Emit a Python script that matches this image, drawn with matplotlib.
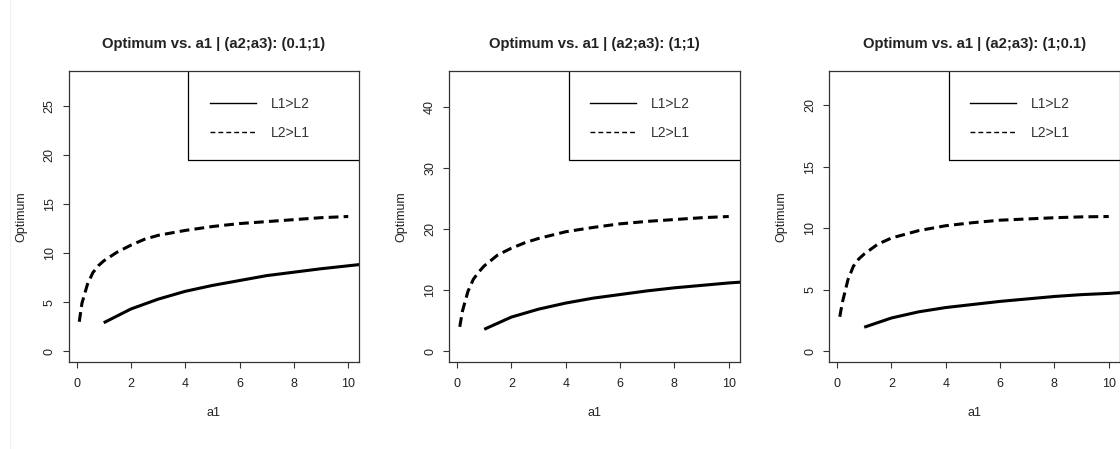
import matplotlib
matplotlib.use("Agg")
import matplotlib.pyplot as plt
from matplotlib.lines import Line2D
from matplotlib.patches import Rectangle
import numpy as np

plt.rcParams["font.family"] = ["Liberation Sans", "DejaVu Sans"]

# a1 grids
a1_dashed = [0.1, 0.2, 0.4, 0.6, 0.8, 1.0, 1.5, 2.0, 2.5, 3.0, 4.0, 5.0, 6.0, 7.0, 8.0, 9.0, 10.0]
a1_solid = [1, 2, 3, 4, 5, 6, 7, 8, 9, 10, 11]

titles = [
    "Optimum vs. a1 | (a2;a3): (0.1;1)",
    "Optimum vs. a1 | (a2;a3): (1;1)",
    "Optimum vs. a1 | (a2;a3): (1;0.1)",
]

# L2>L1 (dashed)
opt_l2_gt_l1 = [
    [3.0, 4.9, 6.8, 8.0, 8.7, 9.2, 10.1, 10.8, 11.4, 11.8, 12.3, 12.7, 13.0, 13.2, 13.4, 13.6, 13.72],
    [4.0, 6.6, 9.8, 11.8, 13.0, 14.0, 15.8, 16.9, 17.8, 18.5, 19.6, 20.3, 20.9, 21.3, 21.6, 21.9, 22.1],
    [2.8, 4.0, 5.8, 6.9, 7.5, 7.9, 8.7, 9.2, 9.5, 9.8, 10.2, 10.45, 10.65, 10.75, 10.85, 10.92, 10.95],
]

# L1>L2 (solid)
opt_l1_gt_l2 = [
    [2.9, 4.3, 5.3, 6.1, 6.7, 7.2, 7.7, 8.05, 8.4, 8.7, 9.0],
    [3.6, 5.6, 6.9, 7.9, 8.7, 9.3, 9.9, 10.4, 10.8, 11.2, 11.5],
    [1.95, 2.7, 3.2, 3.55, 3.8, 4.05, 4.25, 4.45, 4.6, 4.7, 4.85],
]

y_steps = [5, 10, 5]

W, H = 1120, 449
fig = plt.figure(figsize=(W / 100, H / 100), dpi=100)
fig.add_artist(Line2D([10 / W, 10 / W], [0, 1], color="#f0f0f0", lw=0.8))

lefts = [68.5, 449, 829]
txt = "#222222"

for i in range(3):
    ax = fig.add_axes([lefts[i] / W, (H - 362) / H, 290.5 / W, 291 / H])
    xd = np.array(a1_dashed)
    yd = np.array(opt_l2_gt_l1[i])

    ax.plot(xd, yd, color="black", lw=2.2, dashes=(3.2, 1.7), dash_capstyle="butt")
    ax.plot(a1_solid, opt_l1_gt_l2[i], color="black", lw=2.2, solid_capstyle="butt")

    # R style ranges: 4% padding
    x0, x1 = xd.min(), xd.max()
    ax.set_xlim(x0 - 0.04 * (x1 - x0), x1 + 0.04 * (x1 - x0))
    ytop = 2 * yd.max()
    ax.set_ylim(-0.04 * ytop, 1.04 * ytop)

    ax.set_xticks(np.arange(0, 11, 2))
    ax.set_yticks(np.arange(0, ytop, y_steps[i]))
    ax.tick_params(length=4.3, width=0.8, labelsize=9, colors="#333333", labelcolor=txt)
    ax.tick_params(axis="x", pad=7.5)
    ax.tick_params(axis="y", pad=5, labelrotation=90)
    for lab in ax.get_yticklabels():
        lab.set_va("center")
    for s in ax.spines.values():
        s.set_linewidth(0.9)
        s.set_color("#333333")

    ax.set_title(titles[i], fontsize=10.7, fontweight="bold", pad=16.5, color=txt)
    ax.set_xlabel("a1", fontsize=9, color=txt)
    ax.xaxis.set_label_coords(0.5, -0.155)
    ax.set_ylabel("Optimum", fontsize=9, color=txt)
    ax.yaxis.set_label_coords(-0.143, 0.5)

    ax.add_patch(Rectangle((0.412, 0.694), 0.7, 0.4, transform=ax.transAxes,
                           fill=False, edgecolor="black", lw=0.9, clip_on=True))
    handles = [Line2D([], [], color="black", lw=1.0),
               Line2D([], [], color="black", lw=1.0, dashes=(3.5, 2.2))]
    ax.legend(handles, ["L1>L2", "L2>L1"], loc="upper left", bbox_to_anchor=(0.486, 0.91),
              frameon=False, fontsize=10, handlelength=3.3, handletextpad=1.08,
              labelspacing=1.05, borderpad=0, borderaxespad=0, labelcolor="#333333")

fig.savefig("out.png", dpi=100)
